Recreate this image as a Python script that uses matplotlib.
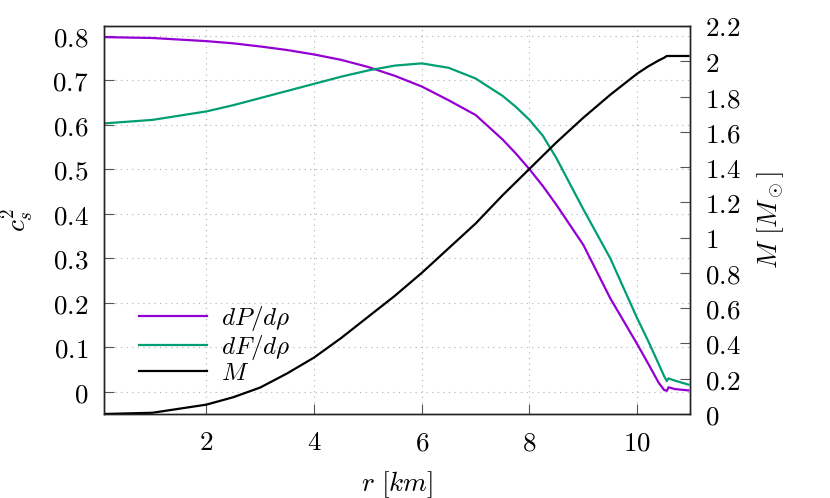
import numpy as np
import matplotlib.pyplot as plt
from matplotlib.ticker import FuncFormatter, MultipleLocator

plt.rcParams.update({
    'font.family': 'serif',
    'font.serif': ['DejaVu Serif'],
    'mathtext.fontset': 'cm',
})

# values
r_km = [0.1, 1, 2, 2.5, 3, 3.5, 4, 4.5, 5, 5.5, 6, 6.5, 7, 7.5, 7.75, 8, 8.25, 8.5,
        9, 9.5, 10, 10.2, 10.4, 10.5, 10.55, 10.58, 10.7, 10.95]
dP_drho = [0.797, 0.795, 0.788, 0.783, 0.776, 0.768, 0.758, 0.746, 0.730, 0.710,
           0.686, 0.655, 0.622, 0.567, 0.535, 0.500, 0.462, 0.420,
           0.330, 0.210, 0.107, 0.064, 0.020, 0.004, 0.002, 0.010, 0.006, 0.003]
dF_drho = [0.603, 0.611, 0.630, 0.644, 0.660, 0.676, 0.692, 0.708, 0.722, 0.733,
           0.738, 0.728, 0.704, 0.665, 0.640, 0.611, 0.575, 0.525,
           0.410, 0.300, 0.165, 0.115, 0.062, 0.035, 0.024, 0.030, 0.025, 0.016]
mass = [0.0, 0.007, 0.053, 0.095, 0.15, 0.23, 0.32, 0.43, 0.55, 0.67,
        0.80, 0.94, 1.08, 1.24, 1.315, 1.39, 1.465, 1.54,
        1.68, 1.81, 1.93, 1.97, 2.005, 2.02, 2.03, 2.03, 2.03, 2.03]

c_purple = '#9400d3'
c_green = '#009e73'
fs = 19.5


def mfmt(v, pos):
    return '$%g$' % round(v, 2)


fig = plt.figure(figsize=(8.3, 4.98), dpi=100)
ax = fig.add_axes([0.1253, 0.1687, 0.7060, 0.7791])
ax2 = ax.twinx()

l1, = ax.plot(r_km, dP_drho, color=c_purple, lw=1.6, label=r'$dP/d\rho$')
l2, = ax.plot(r_km, dF_drho, color=c_green, lw=1.6, label=r'$dF/d\rho$')
l3, = ax2.plot(r_km, mass, color='black', lw=1.6, label=r'$M$')

ax.set_xlim(0.1, 10.98)
ax.set_ylim(-0.05, 0.822)
ax2.set_ylim(0, 2.2)

ax.xaxis.set_major_locator(MultipleLocator(2))
ax.yaxis.set_major_locator(MultipleLocator(0.1))
ax2.yaxis.set_major_locator(MultipleLocator(0.2))
for a in (ax.xaxis, ax.yaxis, ax2.yaxis):
    a.set_major_formatter(FuncFormatter(mfmt))

ax.grid(True, color='#b0b0b0', ls=(0, (1, 4)), lw=0.8)
ax.tick_params(direction='in', length=7, width=0.8, color='#555555',
               labelsize=fs, pad=11)
ax2.tick_params(direction='in', length=7, width=0.8, color='#555555',
                labelsize=fs, pad=11)
for a in (ax, ax2):
    for s in a.spines.values():
        s.set_linewidth(1.0)
        s.set_color('#222222')

ax.set_xlabel(r'$r\ [km]$', fontsize=fs, labelpad=9)
ax.set_ylabel(r'$c_s^2$', fontsize=fs, labelpad=12)
ax2.set_ylabel(r'$M\ [M_\odot]$', fontsize=fs, labelpad=10)

leg = ax.legend(handles=[l1, l2, l3], loc='lower left',
                bbox_to_anchor=(0.059, 0.075), frameon=False, fontsize=18,
                handlelength=2.75, handletextpad=0.55, labelspacing=0.0,
                borderaxespad=0, borderpad=0)

fig.savefig('out.png', dpi=100)
